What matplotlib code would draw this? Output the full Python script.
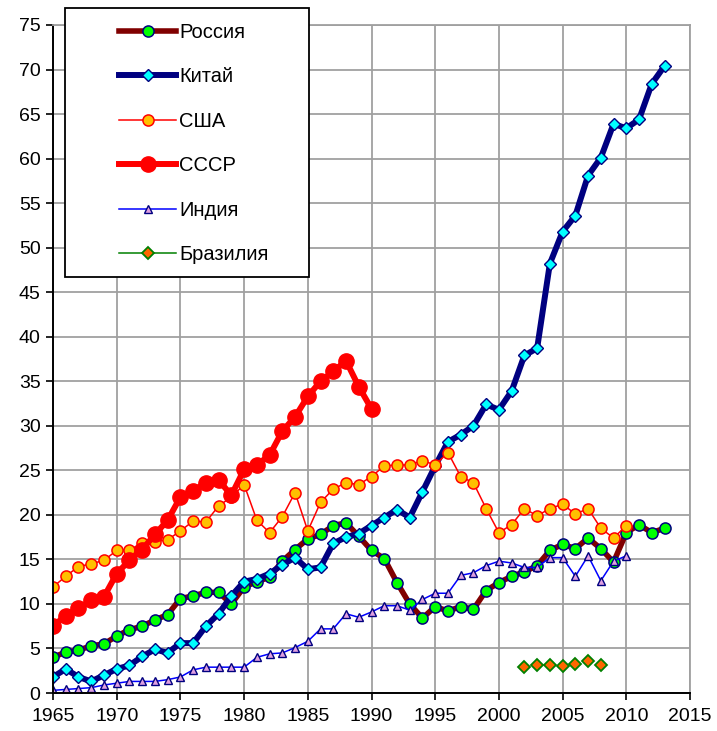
import numpy as np
import matplotlib
matplotlib.use("Agg")
import matplotlib.pyplot as plt
from matplotlib.lines import Line2D
from matplotlib.patches import Rectangle

plt.rcParams['font.family'] = ['Liberation Sans', 'DejaVu Sans']

years_russia = list(range(1965, 2014))
russia = [4.0, 4.6, 4.8, 5.3, 5.5, 6.4, 7.1, 7.5, 8.2, 8.8,
          10.6, 10.9, 11.3, 11.3, 10.0, 11.9, 12.5, 13.0, 14.8, 16.1,
          17.3, 17.8, 18.8, 19.1, 17.6, 16.0, 15.1, 12.4, 10.0, 8.4,
          9.7, 9.2, 9.7, 9.4, 11.5, 12.4, 13.1, 13.6, 14.3, 16.0,
          16.7, 16.2, 17.4, 16.2, 14.7, 18.0, 18.9, 18.0, 18.5]

years_china = list(range(1965, 2014))
china = [1.8, 2.7, 1.8, 1.3, 2.0, 2.7, 3.1, 4.1, 4.9, 4.5,
         5.6, 5.6, 7.5, 8.9, 10.9, 12.5, 12.8, 13.4, 14.4, 15.2,
         13.9, 14.1, 16.8, 17.5, 17.9, 18.8, 19.7, 20.6, 19.7, 22.6,
         25.5, 28.2, 29.0, 30.0, 32.4, 31.8, 33.9, 37.9, 38.7, 48.2,
         51.8, 53.6, 58.1, 60.1, 63.9, 63.4, 64.4, 68.4, 70.4]

years_usa = list(range(1965, 2011))
usa = [11.9, 13.1, 14.2, 14.5, 14.9, 16.0, 16.1, 16.8, 17.0, 17.2,
       18.2, 19.3, 19.2, 21.0, 22.0, 23.4, 19.4, 18.0, 19.8, 22.5,
       18.2, 21.4, 22.9, 23.6, 23.4, 24.3, 25.5, 25.6, 25.6, 26.1,
       25.6, 27.0, 24.3, 23.6, 20.7, 18.0, 18.9, 20.7, 19.9, 20.7,
       21.2, 20.1, 20.7, 18.5, 17.4, 18.8]

years_ussr = list(range(1965, 1991))
ussr = [7.5, 8.7, 9.5, 10.4, 10.8, 13.4, 14.9, 16.1, 17.8, 19.4,
        22.0, 22.7, 23.6, 23.9, 22.2, 25.1, 25.6, 26.7, 29.4, 31.0,
        33.3, 35.0, 36.1, 37.3, 34.4, 31.9]

years_india = list(range(1965, 2011))
india = [0.3, 0.4, 0.5, 0.6, 0.9, 1.1, 1.3, 1.3, 1.3, 1.5,
         1.8, 2.6, 2.9, 2.9, 2.9, 2.9, 4.0, 4.4, 4.5, 5.1,
         5.8, 7.2, 7.2, 8.9, 8.5, 9.1, 9.8, 9.8, 9.3, 10.5,
         11.2, 11.2, 13.2, 13.5, 14.3, 14.8, 14.6, 14.1, 14.1, 15.2,
         15.2, 13.1, 15.4, 12.6, 14.8, 15.4]

years_brazil = list(range(2002, 2009))
brazil = [2.9, 3.1, 3.1, 3.0, 3.3, 3.6, 3.1]

labels = ['Россия', 'Китай', 'США', 'СССР', 'Индия', 'Бразилия']

fig = plt.figure(figsize=(7.17, 7.31), dpi=100)
ax = fig.add_axes([53 / 717, 1 - 693 / 731, 637 / 717, 668 / 731])

styles = {
    'Россия': dict(color='#800000', lw=4.0, marker='o', ms=8, mfc='#00FF00', mec='#000080', mew=1.1),
    'Китай': dict(color='#000080', lw=4.3, marker='D', ms=6, mfc='#00FFFF', mec='#000080', mew=1.0),
    'США': dict(color='#FF0000', lw=1.1, marker='o', ms=8, mfc='#FFC000', mec='#FF0000', mew=1.1),
    'СССР': dict(color='#FF0000', lw=4.3, marker='o', ms=11, mfc='#FF0000', mec='#FF0000', mew=1.0),
    'Индия': dict(color='#0000FF', lw=1.1, marker='^', ms=6, mfc='#E0A0E0', mec='#000080', mew=1.0),
    'Бразилия': dict(color='#008000', lw=1.1, marker='D', ms=6.5, mfc='#FF6600', mec='#008000', mew=1.3),
}

ax.plot(years_russia, russia, **styles['Россия'])
ax.plot(years_china, china, **styles['Китай'])
ax.plot(years_usa, usa, **styles['США'])
ax.plot(years_ussr, ussr, **styles['СССР'])
ax.plot(years_india, india, **styles['Индия'])
ax.plot(years_brazil, brazil, ls='none', **{k: v for k, v in styles['Бразилия'].items() if k != 'lw'})

ax.set_xlim(1965, 2015)
ax.set_ylim(0, 75)
ax.set_xticks(np.arange(1965, 2016, 5))
ax.set_yticks(np.arange(0, 76, 5))
ax.grid(True, color='#A0A0A0', lw=1.3)
ax.set_axisbelow(True)
ax.tick_params(labelsize=14, length=5, width=1.2, direction='out')
ax.tick_params(axis='x', pad=6)
ax.tick_params(axis='y', pad=4)
for s in ['left', 'bottom']:
    ax.spines[s].set_color('black')
    ax.spines[s].set_linewidth(1.4)
for s in ['top', 'right']:
    ax.spines[s].set_color('#A0A0A0')
    ax.spines[s].set_linewidth(1.3)

# legend box
fig.patches.append(Rectangle((65 / 717, 1 - 277 / 731), 244 / 717, 269 / 731,
                             transform=fig.transFigure, facecolor='white',
                             edgecolor='black', lw=1.3, zorder=5))
handles = [Line2D([], [], **styles[lab]) for lab in labels]
leg = fig.legend(handles, labels, loc='upper left', bbox_to_anchor=(109 / 717, 1 - 13 / 731),
                 frameon=False, fontsize=14.5, handlelength=2.85, handletextpad=0.15,
                 labelspacing=1.26, borderpad=0)
leg.set_zorder(6)
for h in leg.legend_handles:
    h.set_markevery([1])

fig.savefig('out.png', dpi=100)
